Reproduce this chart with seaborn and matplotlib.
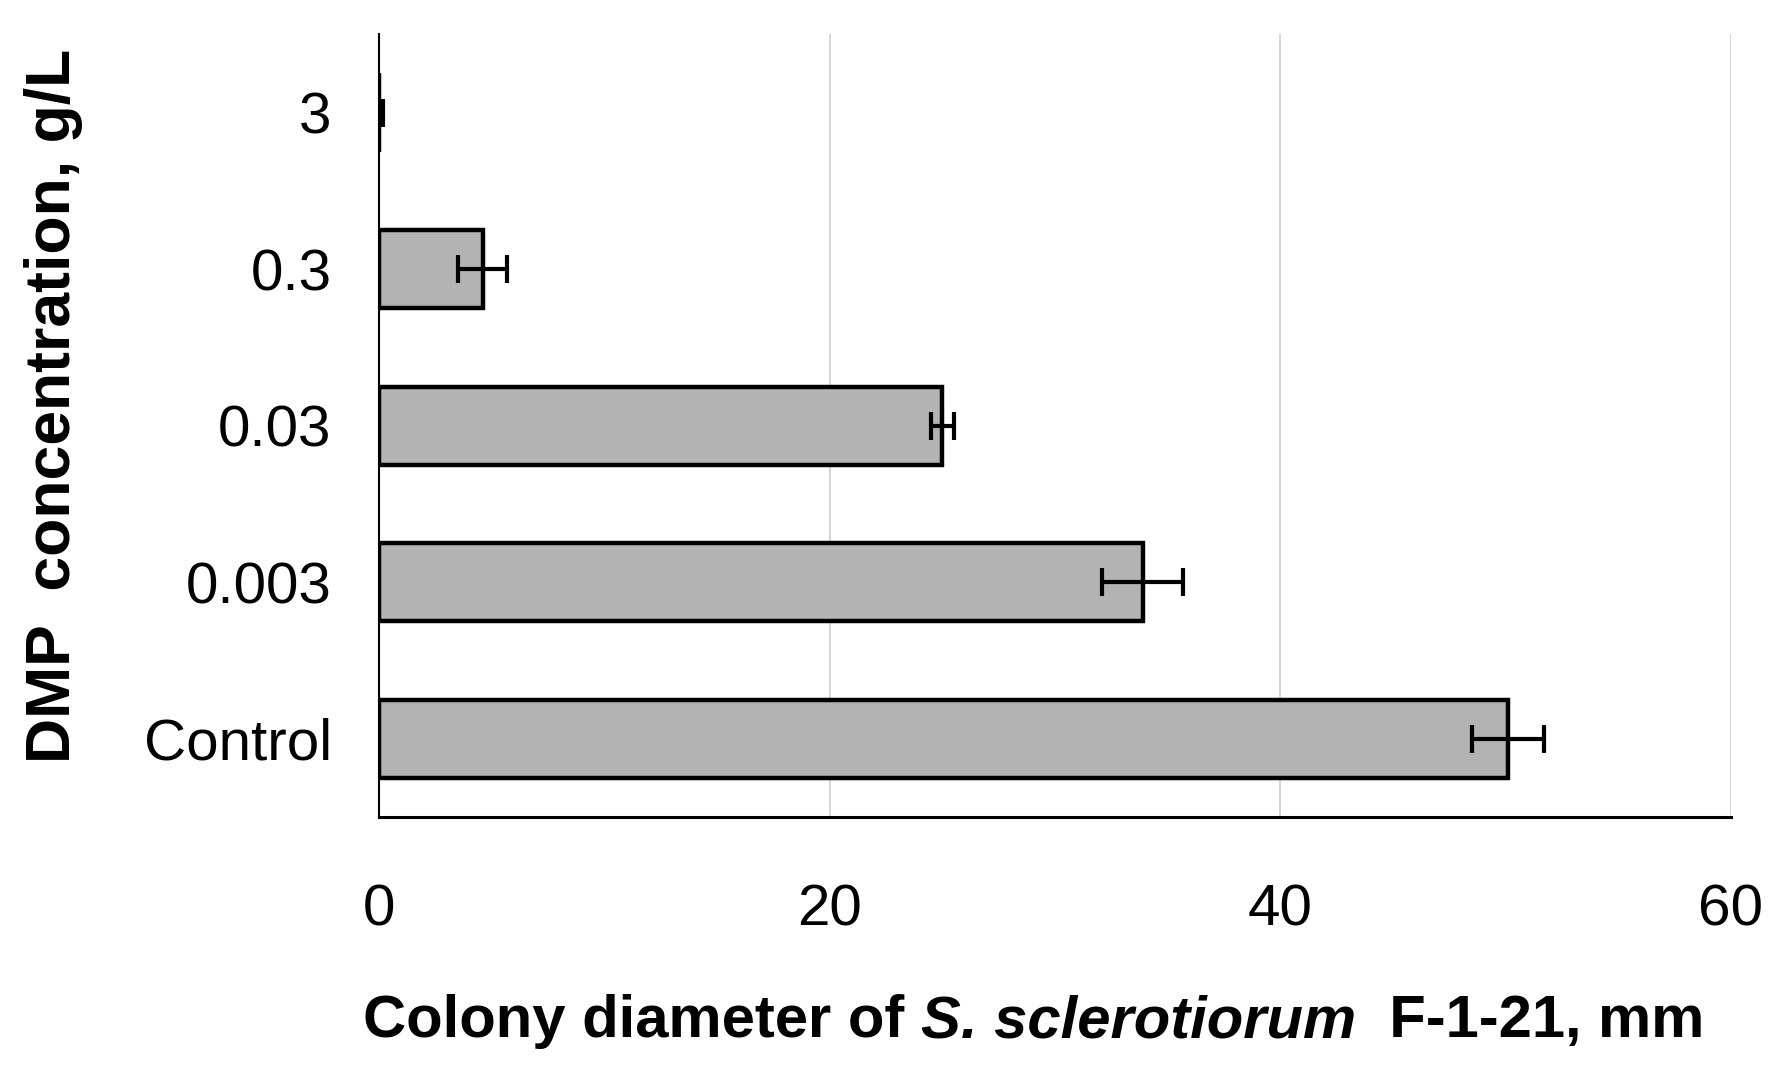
import matplotlib
matplotlib.use("Agg")
import matplotlib.pyplot as plt
import seaborn as sns
import pandas as pd

# data
concentrations = ["3", "0.3", "0.03", "0.003", "Control"]
diameter_mm = [0.0, 4.6, 25.0, 33.9, 50.1]
diameter_err = [0.2, 1.1, 0.5, 1.8, 1.6]
x_ticks = [0, 20, 40, 60]

df = pd.DataFrame({"conc": concentrations, "diam": diameter_mm})

sns.set_style("white")
plt.rcParams['font.family'] = ['Liberation Sans Narrow', 'Liberation Sans', 'DejaVu Sans']
plt.rcParams['text.color'] = 'black'
plt.rcParams['xtick.color'] = 'black'
plt.rcParams['ytick.color'] = 'black'

fig = plt.figure(figsize=(17.9, 10.74), dpi=100)
ax = fig.add_axes([0.2117, 0.2393, 0.967 - 0.2117, 0.968 - 0.2393])

sns.barplot(data=df, x="diam", y="conc", order=concentrations, orient="h",
            color="#b3b3b3", saturation=1, width=0.5,
            edgecolor="black", linewidth=3.2, ax=ax, zorder=3)
ax.errorbar(diameter_mm, range(len(concentrations)), xerr=diameter_err,
            fmt="none", ecolor="black", elinewidth=3, capsize=10,
            capthick=3, zorder=4)

ax.set_xlim(0, 60)
ax.set_ylim(4.5, -0.5)
ax.set_xticks(x_ticks)
ax.grid(axis="x", color="#d0d0d0", linewidth=1.2, zorder=0)
ax.grid(axis="y", visible=False)
for s in ["top", "right"]:
    ax.spines[s].set_visible(False)
ax.spines["left"].set_color("black")
ax.spines["left"].set_linewidth(1.5)
ax.spines["bottom"].set_color("black")
ax.spines["bottom"].set_linewidth(2.2)
ax.tick_params(axis="x", length=0, pad=48, labelsize=42)
ax.tick_params(axis="y", length=0, pad=34, labelsize=42)
ax.set_xlabel("")
ax.set_ylabel("")

# y axis title
fig.text(0.030, 0.622, "DMP  concentration, g/L", rotation=90, fontsize=45,
         fontweight="bold", ha="center", va="center")

# x axis title in pieces (italic species name)
t1 = fig.text(0.203, 0.034, "Colony diameter of ", fontsize=43,
              fontweight="bold", ha="left", va="baseline")
t2 = ax.annotate("S. sclerotiorum", xycoords=t1, xy=(1, 0), va="bottom",
                 fontsize=43, fontweight="bold", fontstyle="italic")
t3 = ax.annotate("  F-1-21, mm", xycoords=t2, xy=(1, 0), va="bottom",
                 fontsize=43, fontweight="bold")

fig.savefig("out.png", dpi=100)
